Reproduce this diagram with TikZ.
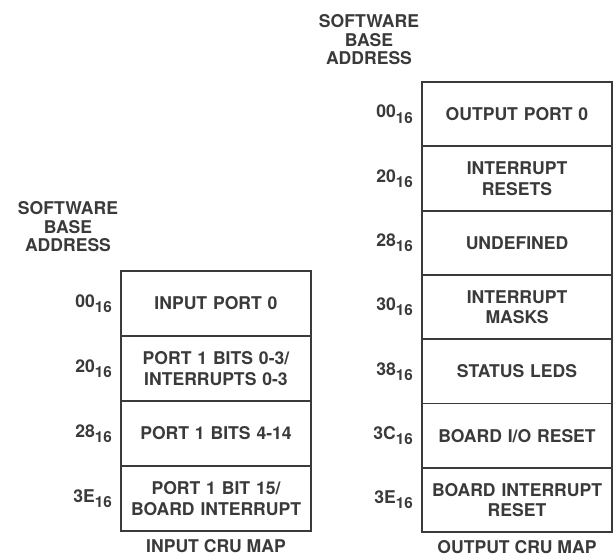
\documentclass[tikz,border=0pt]{standalone}
\usepackage{fontspec}
\setmainfont{TeX Gyre Heros}
\usetikzlibrary{positioning}
\definecolor{ink}{RGB}{58,58,58}
\newcommand{\hexaddr}[1]{#1\raisebox{-0.55ex}{\fontsize{13}{13}\selectfont 16}}
\tikzset{cell/.style={draw=ink,line width=1.6pt,text width=5.4cm,inner xsep=0.15cm,minimum height=1.95cm,align=center,outer sep=0pt,text=ink,font=\fontsize{15}{17.5}\selectfont\bfseries},outcell/.style={cell,minimum height=1.929cm},addr/.style={text=ink,inner sep=0pt,font=\fontsize{15}{17.5}\selectfont\bfseries},caption/.style={text=ink,align=center,inner sep=0pt,font=\fontsize{15}{15.8}\selectfont\bfseries}}

\begin{document}
\begin{tikzpicture}[x=0.3mm,y=-0.3mm]
\useasboundingbox (0,0) rectangle (613,558);
% input cru map
\node[caption] (inhead) at (68,227) {SOFTWARE\\BASE\\ADDRESS};
\node[cell,anchor=north west] (in0) at (121,271) {INPUT PORT 0};
\node[cell,below=0pt of in0] (in1) {PORT 1 BITS 0-3/\\INTERRUPTS 0-3};
\node[cell,below=0pt of in1] (in2) {PORT 1 BITS 4-14};
\node[cell,below=0pt of in2] (in3) {PORT 1 BIT 15/\\BOARD INTERRUPT};
\node[addr,left=0.27cm of in0] (a00) {\hexaddr{00}};
\node[addr,left=0.27cm of in1] (a20) {\hexaddr{20}};
\node[addr,left=0.27cm of in2] (a28) {\hexaddr{28}};
\node[addr,left=0.27cm of in3] (a3E) {\hexaddr{3E}};
\node[caption,below=0.24cm of in3] (intitle) {INPUT CRU MAP};
% output cru map
\node[caption] (outhead) at (369,40) {SOFTWARE\\BASE\\ADDRESS};
\node[outcell,anchor=north west] (out0) at (422,82) {OUTPUT PORT 0};
\node[outcell,below=0pt of out0] (out1) {INTERRUPT\\RESETS};
\node[outcell,below=0pt of out1] (out2) {UNDEFINED};
\node[outcell,below=0pt of out2] (out3) {INTERRUPT\\MASKS};
\node[outcell,below=0pt of out3] (out4) {STATUS LEDS};
\node[outcell,below=0pt of out4] (out5) {BOARD I/O RESET};
\node[outcell,below=0pt of out5] (out6) {BOARD INTERRUPT\\RESET};
\node[addr,left=0.27cm of out0] (b00) {\hexaddr{00}};
\node[addr,left=0.27cm of out1] (b20) {\hexaddr{20}};
\node[addr,left=0.27cm of out2] (b28) {\hexaddr{28}};
\node[addr,left=0.27cm of out3] (b30) {\hexaddr{30}};
\node[addr,left=0.27cm of out4] (b38) {\hexaddr{38}};
\node[addr,left=0.27cm of out5] (b3C) {\hexaddr{3C}};
\node[addr,left=0.27cm of out6] (b3E) {\hexaddr{3E}};
\node[caption,below=0.24cm of out6] (outtitle) {OUTPUT CRU MAP};
\end{tikzpicture}
\end{document}
